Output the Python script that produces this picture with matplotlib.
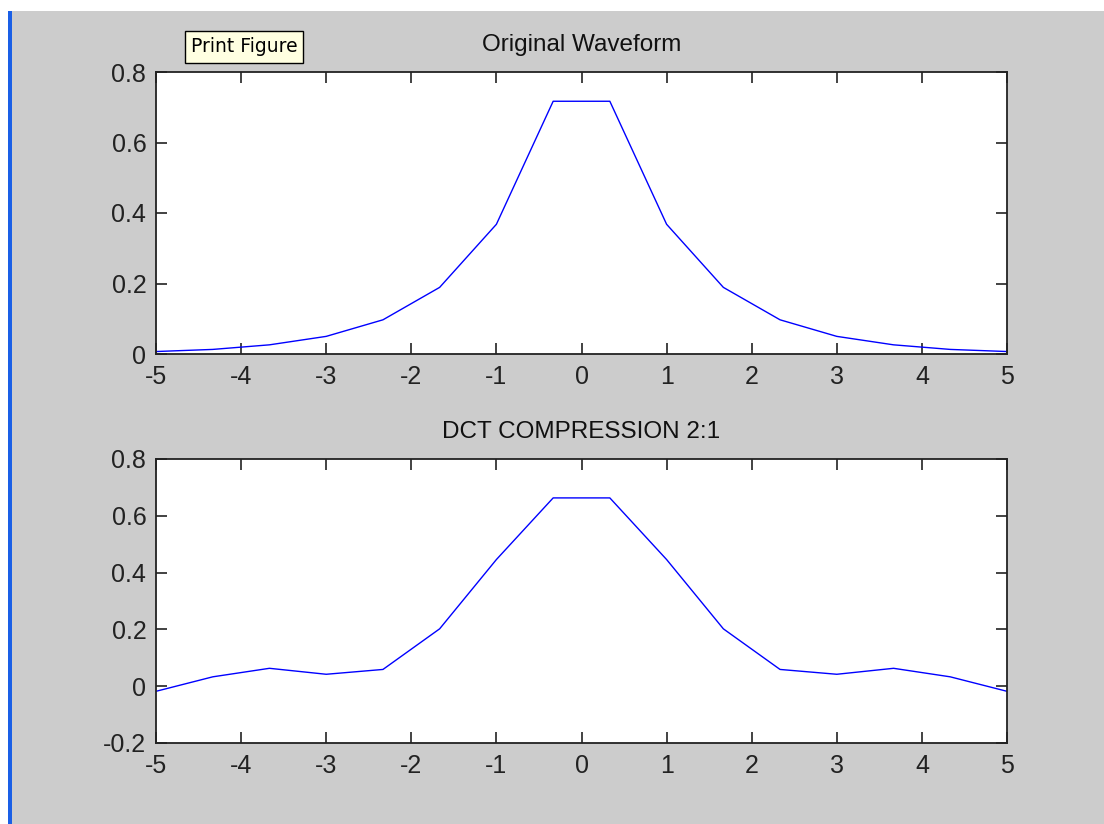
import matplotlib
matplotlib.use("Agg")
import matplotlib.pyplot as plt
from matplotlib.patches import Rectangle

plt.rcParams['font.family'] = ['Liberation Sans', 'DejaVu Sans']
plt.rcParams['axes.unicode_minus'] = False

# Data
x = [-5, -4.333, -3.667, -3, -2.333, -1.667, -1, -0.333,
     0.333, 1, 1.667, 2.333, 3, 3.667, 4.333, 5]
original = [0.007, 0.013, 0.026, 0.050, 0.097, 0.189, 0.368, 0.717,
            0.717, 0.368, 0.189, 0.097, 0.050, 0.026, 0.013, 0.007]
compressed = [-0.018, 0.033, 0.063, 0.042, 0.059, 0.202, 0.446, 0.663,
              0.663, 0.446, 0.202, 0.059, 0.042, 0.063, 0.033, -0.018]

xticks = [-5, -4, -3, -2, -1, 0, 1, 2, 3, 4, 5]
xticklabels = ['-5', '-4', '-3', '-2', '-1', '0', '1', '2', '3', '4', '5']
yticks_top = [0, 0.2, 0.4, 0.6, 0.8]
yticklabels_top = ['0', '0.2', '0.4', '0.6', '0.8']
yticks_bot = [-0.2, 0, 0.2, 0.4, 0.6, 0.8]
yticklabels_bot = ['-0.2', '0', '0.2', '0.4', '0.6', '0.8']
titles = ['Original Waveform', 'DCT COMPRESSION 2:1']

W, H = 1104, 824
fig = plt.figure(figsize=(W / 100, H / 100), dpi=100, facecolor='white')

def fig_rect(left, top, right, bottom, **kw):
    fig.patches.append(Rectangle((left / W, (H - bottom) / H), (right - left) / W,
                                 (bottom - top) / H, transform=fig.transFigure, **kw))

# window background (grey) and blue left border
fig_rect(12, 11, W, H, facecolor='#cccccc', edgecolor='none', zorder=-10)
fig_rect(8, 11, 12, H, facecolor='#1a5fe6', edgecolor='none', zorder=-9)

FS = 18

def px_axes(left, top, right, bottom):
    return fig.add_axes([left / W, (H - bottom) / H, (right - left) / W, (bottom - top) / H])

ax1 = px_axes(156, 72, 1007, 354)
ax2 = px_axes(156, 459, 1007, 743)

for ax, y, yt, ytl, ttl in [(ax1, original, yticks_top, yticklabels_top, titles[0]),
                            (ax2, compressed, yticks_bot, yticklabels_bot, titles[1])]:
    ax.plot(x, y, color='#0000ff', linewidth=1.0)
    ax.set_xlim(-5, 5)
    ax.set_ylim(yt[0], yt[-1])
    ax.set_xticks(xticks)
    ax.set_xticklabels(xticklabels)
    ax.set_yticks(yt)
    ax.set_yticklabels(ytl)
    ax.set_facecolor('white')
    ax.tick_params(direction='in', length=8, width=1.2, colors='#222222',
                   top=True, right=True, labelsize=FS)
    ax.tick_params(axis='y', pad=7)
    ax.tick_params(axis='x', pad=8)
    for s in ax.spines.values():
        s.set_color('#222222')
        s.set_linewidth(1.3)
    ax.set_title(ttl, fontsize=17.5, color='#111111', pad=15)

# "Print Figure" tooltip
fig_rect(185, 31, 303, 63, facecolor='#ffffe1', edgecolor='black', linewidth=1.0, zorder=5)
fig.text(244 / W, 1 - 47 / H, 'Print Figure', fontsize=13.5, color='black',
         va='center', ha='center', family=['DejaVu Sans'], zorder=6)

fig.savefig('out.png', dpi=100, facecolor=fig.get_facecolor())
